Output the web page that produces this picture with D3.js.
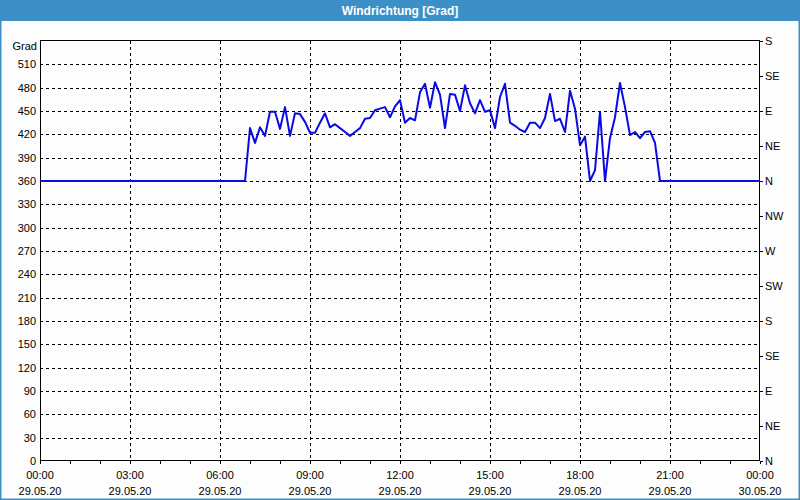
<!DOCTYPE html>
<html>
<head>
<meta charset="utf-8">
<script src="https://cdn.jsdelivr.net/npm/d3@7"></script>
<style>
  html, body { margin: 0; padding: 0; background: #fcfdfc; }
  svg { display: block; }
  text { font-family: "Liberation Sans", Arial, sans-serif; }
</style>
</head>
<body>
<svg id="chart" width="800" height="500"></svg>
<script>
const chartTitle = "Windrichtung [Grad]";
const yUnit = "Grad";
const times = [
  "00:00","06:50","07:00","07:10","07:20","07:30","07:40","07:50",
  "08:00","08:10","08:20","08:30","08:40","08:50",
  "09:00","09:10","09:20","09:30","09:40","09:50",
  "10:00","10:10","10:20","10:30","10:40","10:50",
  "11:00","11:10","11:20","11:30","11:40","11:50",
  "12:00","12:10","12:20","12:30","12:40","12:50",
  "13:00","13:10","13:20","13:30","13:40","13:50",
  "14:00","14:10","14:20","14:30","14:40","14:50",
  "15:00","15:10","15:20","15:30","15:40","15:50",
  "16:00","16:10","16:20","16:30","16:40","16:50",
  "17:00","17:10","17:20","17:30","17:40","17:50",
  "18:00","18:10","18:20","18:30","18:40","18:50",
  "19:00","19:10","19:20","19:30","19:40","19:50",
  "20:00","20:10","20:20","20:30","20:40","24:00"
];
const values = [
  360,360,428,409,429,418,449,449,
  427,455,418,447,446,436,
  422,422,435,447,429,433,
  428,423,418,423,428,440,
  441,451,453,455,442,456,
  464,435,441,438,474,485,
  454,487,471,428,472,471,
  450,483,460,447,464,449,
  451,428,468,485,435,431,
  426,423,435,435,428,441,
  472,437,440,423,476,453,
  406,417,360,374,449,360,
  415,442,486,455,419,423,
  415,423,424,409,360,360
];
const leftTicks = [0,30,60,90,120,150,180,210,240,270,300,330,360,390,420,450,480,510];
const rightTickValues = [0,45,90,135,180,225,270,315,360,405,450,495,540];
const rightTickLabels = ["N","NE","E","SE","S","SW","W","NW","N","NE","E","SE","S"];
const xLabelTimes = ["00:00","03:00","06:00","09:00","12:00","15:00","18:00","21:00","24:00"];

function parseT(s) {
  const [h, m] = s.split(":").map(Number);
  return new Date(2020, 4, 29, h, m);
}
const data = times.map((t, i) => ({ t: parseT(t), v: values[i] }));

const svg = d3.select("#chart");
const W = 800, H = 500;
const L = 40, R = 760, T = 41, B = 461;
const blue = "#3d8fc7";

const x = d3.scaleTime().domain([parseT("00:00"), parseT("24:00")]).range([L, R]);
const y = d3.scaleLinear().domain([0, 540]).range([B, T]);

// background
svg.append("rect").attr("width", W).attr("height", H).attr("fill", "#fcfdfc");
// title bar
svg.append("rect").attr("x", 0).attr("y", 0).attr("width", W).attr("height", 21).attr("fill", blue);
svg.append("text").attr("x", 400).attr("y", 14.5).attr("text-anchor", "middle")
  .attr("fill", "#ffffff").attr("font-weight", "bold").attr("font-size", "12px").text(chartTitle);
// outer border
svg.append("rect").attr("x", 0.5).attr("y", 0.5).attr("width", W - 1).attr("height", H - 1)
  .attr("fill", "none").attr("stroke", blue).attr("stroke-width", 2);

// gridlines
const grid = svg.append("g");
grid.selectAll("line.h").data(leftTicks.filter(d => d > 0)).join("line")
  .attr("x1", L).attr("x2", R)
  .attr("y1", d => Math.round(y(d)) + 0.5).attr("y2", d => Math.round(y(d)) + 0.5)
  .attr("stroke", "#000").attr("stroke-dasharray", "3,3");
const vGrid = xLabelTimes.slice(1, -1).map(parseT);
grid.selectAll("line.v").data(vGrid).join("line")
  .attr("x1", d => Math.round(x(d)) + 0.5).attr("x2", d => Math.round(x(d)) + 0.5)
  .attr("y1", T).attr("y2", B)
  .attr("stroke", "#000").attr("stroke-dasharray", "3,3");

// left axis
const gl = svg.append("g").attr("transform", `translate(${L},0)`)
  .call(d3.axisLeft(y).tickValues(leftTicks).tickSize(0).tickPadding(4));
gl.select(".domain").remove();
gl.selectAll("text").attr("font-size", "11px").attr("fill", "#000").attr("font-family", "Liberation Sans, Arial, sans-serif");
svg.append("text").attr("x", 37).attr("y", 50).attr("text-anchor", "end")
  .attr("font-size", "11px").attr("fill", "#000").text(yUnit);

// right axis
const gr = svg.append("g").attr("transform", `translate(${R},0)`)
  .call(d3.axisRight(y).tickValues(rightTickValues).tickFormat((d, i) => rightTickLabels[i]).tickSize(3).tickPadding(2));
gr.select(".domain").remove();
gr.selectAll("line").attr("stroke", "#000");
gr.selectAll("text").attr("font-size", "11px").attr("fill", "#000").attr("font-family", "Liberation Sans, Arial, sans-serif");

// bottom axis ticks (hourly)
const gb = svg.append("g").attr("transform", `translate(0,${B})`)
  .call(d3.axisBottom(x).ticks(d3.timeHour.every(1)).tickSize(3).tickFormat(""));
gb.select(".domain").remove();
gb.selectAll("line").attr("stroke", "#000");
// bottom labels (two lines)
const fmtTime = d3.timeFormat("%H:%M"), fmtDate = d3.timeFormat("%d.%m.%y");
const lbl = svg.append("g").selectAll("g").data(xLabelTimes.map(parseT)).join("g")
  .attr("transform", d => `translate(${x(d)},0)`);
lbl.append("text").attr("y", 479).attr("text-anchor", "middle").attr("font-size", "11px").attr("fill", "#000").text(d => fmtTime(d));
lbl.append("text").attr("y", 495).attr("text-anchor", "middle").attr("font-size", "11px").attr("fill", "#000").text(d => fmtDate(d));

// frame
svg.append("rect").attr("x", L + 0.5).attr("y", T - 0.5).attr("width", R - L - 1).attr("height", B - T)
  .attr("fill", "none").attr("stroke", "#000").attr("stroke-width", 1);

// data line
const line = d3.line().x(d => x(d.t)).y(d => y(d.v));
svg.append("path").datum(data).attr("d", line)
  .attr("fill", "none").attr("stroke", "#0a0ae6").attr("stroke-width", 2).attr("stroke-linejoin", "round");
</script>
</body>
</html>
